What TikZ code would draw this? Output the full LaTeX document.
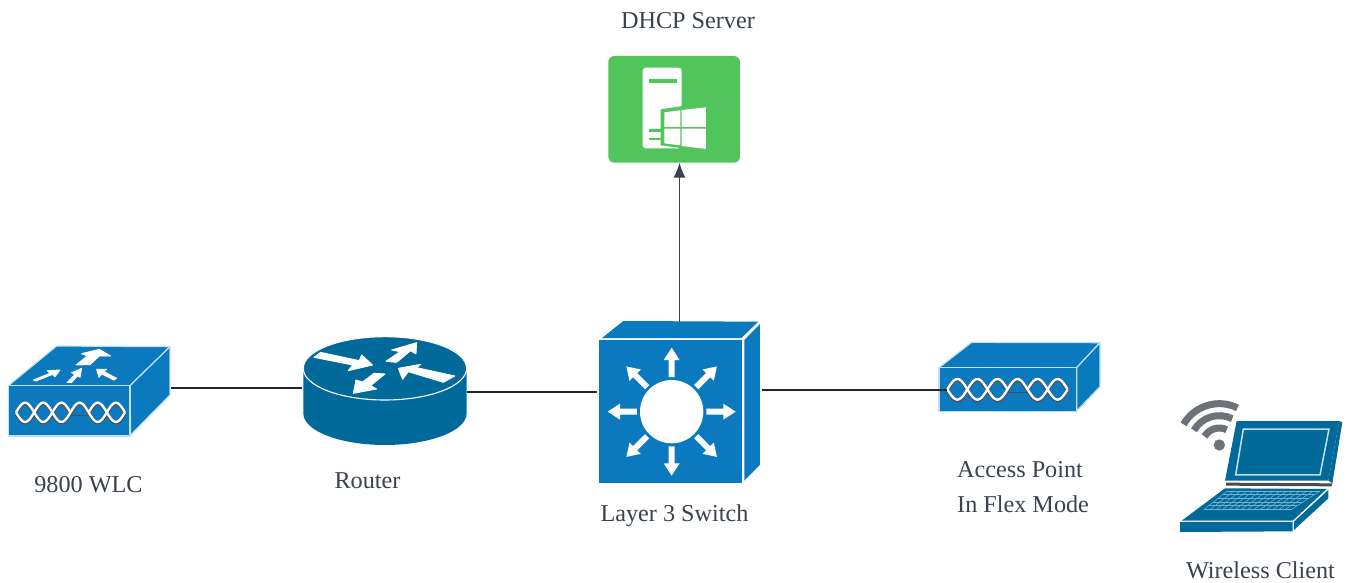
\documentclass[tikz,border=0pt]{standalone}
\usepackage{fontspec}
\setmainfont{Liberation Serif}
\usetikzlibrary{arrows.meta}
\definecolor{ciscoblue}{HTML}{0A79BD}
\definecolor{routerblue}{HTML}{02699B}
\definecolor{servergreen}{HTML}{52C45C}
\definecolor{labelgrey}{HTML}{3A424C}
\definecolor{wifigrey}{HTML}{6D7279}
\definecolor{edgeblue}{HTML}{BFE0F2}
\tikzset{
  port/.style={inner sep=0pt,outer sep=0pt,minimum width=#1,minimum height=60pt},
  lbl/.style={font=\fontsize{24.2}{35}\selectfont,text=labelgrey,inner sep=0pt},
  wire/.style={draw=black!85,line width=2.2pt},
  uplink/.style={draw=labelgrey,line width=1.4pt,-{Latex[length=15pt,width=12pt]}},
  face/.style={fill=ciscoblue,draw=white,line width=0.9pt,line join=round},
  topface/.style={fill=ciscoblue,draw=edgeblue,line width=1.2pt,line join=round},
  glyph/.style={fill=white,draw=white,line width=0.9pt,line join=round},
  pane/.style={fill=white,draw=none},
  zoomed/.style={x=0.3333pt,y=-0.3333pt}
}
\newcommand{\helix}[4]{%
  \draw[black!70,line width=3.6pt]
    plot[smooth,samples=61,domain=0:6] ({#1+(#2-#1)*\x/6},{#3+#4*sin(180*\x)+2});
  \draw[black!70,line width=3.6pt]
    plot[smooth,samples=31,domain=0:3] ({#1+(#2-#1)*\x/6},{#3-#4*sin(180*\x)+2});
  \draw[black!70,line width=3.6pt]
    plot[smooth,samples=21,domain=4:6] ({#1+(#2-#1)*\x/6},{#3-#4*sin(180*\x)+2});
  \draw[black!70,line width=0.7pt]
    ({#1+(#2-#1)*3/6},{#3+#4*0.3}) -- ({#1+(#2-#1)*4/6},{#3+#4*0.3});
  \draw[white,line width=2.4pt]
    plot[smooth,samples=61,domain=0:6] ({#1+(#2-#1)*\x/6},{#3+#4*sin(180*\x)});
  \draw[white,line width=2.4pt]
    plot[smooth,samples=31,domain=0:3] ({#1+(#2-#1)*\x/6},{#3-#4*sin(180*\x)});
  \draw[white,line width=2.4pt]
    plot[smooth,samples=21,domain=4:6] ({#1+(#2-#1)*\x/6},{#3-#4*sin(180*\x)});
}
\begin{document}
\begin{tikzpicture}[x=1pt,y=-1pt]
\useasboundingbox (0,0) rectangle (1353,582);
\fill[white] (0,0) rectangle (1353,582);

% invisible device nodes that carry the connector ends
\node[port=163pt] (wlc) at (89.5,388) {};
\node[port=165pt] (router) at (384.5,392) {};
\node[port=165pt] (switch) at (679.5,392) {};
\node[port=153pt] (ap) at (1023.5,390) {};
\node[inner sep=0pt,minimum width=132pt,minimum height=107pt] (server) at (674,109) {};

% 9800 WLC
\begin{scope}[shift={(0,320)},zoomed]
  \path[topface] (25,197) -- (170,78) -- (510,80) -- (390,197) -- cycle;
  \path[topface] (390,197) -- (510,80) -- (510,225) -- (392,345) -- cycle;
  \path[topface] (25,197) rectangle (390,348);
  \path[glyph] (228,135) -- (262,108) -- (245,101) -- (298,88) -- (332,108) -- (298,108) -- (270,134) -- cycle;
  \path[glyph] (100,180) -- (150,160) -- (142,152) -- (180,150) -- (165,170) -- (158,163) -- (108,183) -- cycle;
  \path[glyph] (202,187) -- (225,163) -- (215,158) -- (245,145) -- (240,172) -- (232,168) -- (215,187) -- cycle;
  \path[glyph] (350,175) -- (312,155) -- (320,148) -- (290,148) -- (297,172) -- (305,162) -- (342,180) -- cycle;
  \helix{48}{375}{277}{29}
\end{scope}

% Router
\begin{scope}[shift={(0,320)},zoomed]
  \path[fill=routerblue] (910,145) -- (910,280) arc[start angle=180,end angle=360,x radius=245,y radius=-95]
     -- (1400,145) -- cycle;
  \path[fill=routerblue,draw=white,line width=1.1pt] (1155,145) ellipse[x radius=245,y radius=95];
  \path[glyph] (942,112) -- (962,97) -- (1078,122) -- (1085,105) -- (1118,135) -- (1045,152) -- (1058,135) -- cycle;
  \path[glyph] (1158,124) -- (1200,95) -- (1175,90) -- (1250,68) -- (1248,102) -- (1232,92) -- (1190,127) -- cycle;
  \path[glyph] (1365,168) -- (1330,187) -- (1225,155) -- (1208,178) -- (1195,145) -- (1262,133) -- (1250,143) -- cycle;
  \path[glyph] (1155,162) -- (1122,160) -- (1088,186) -- (1068,180) -- (1060,220) -- (1130,207) -- (1112,197) -- cycle;
\end{scope}

% Layer 3 switch
\begin{scope}[shift={(580,310)},zoomed]
  \path[fill=ciscoblue] (66,84) -- (130,33) -- (535,35) -- (484,84) -- cycle;
  \path[fill=ciscoblue] (493,90) -- (540,42) -- (540,465) -- (493,512) -- cycle;
  \path[fill=ciscoblue] (58,90) rectangle (487,518);
  \fill[white] (275,305) circle[radius=95];
  \foreach \a in {0,45,...,315}{
    \path[pane,rotate around={\a:(275,305)}]
      (379,296) -- (430,296) -- (430,281) -- (467,305) -- (430,329) -- (430,314) -- (379,314) -- cycle;
  }
\end{scope}

% DHCP server
\begin{scope}[shift={(600,0)},zoomed]
  \fill[servergreen] (25,168) [rounded corners=6pt] rectangle (420,488);
  \path[pane,rounded corners=3pt] (128,445) -- (128,203) -- (245,203) -- (245,445) -- cycle;
  \fill[servergreen] (147,237) rectangle (230,250);
  \fill[servergreen] (182,328) -- (250,318) -- (250,445) -- (182,436) -- cycle;
  \fill[servergreen] (147,388) -- (182,388) -- (182,396) -- (147,396) -- cycle;
  \fill[servergreen] (147,413) -- (182,413) -- (182,421) -- (147,421) -- cycle;
  \path[pane] (193,337) -- (241,331) -- (241,381) -- (193,381) -- cycle;
  \path[pane] (245,330) -- (318,322) -- (318,381) -- (245,381) -- cycle;
  \path[pane] (193,386) -- (241,386) -- (241,436) -- (193,430) -- cycle;
  \path[pane] (245,386) -- (318,386) -- (318,447) -- (245,438) -- cycle;
\end{scope}

% Access point
\begin{scope}[shift={(930,330)},zoomed]
  \path[topface] (27,113) -- (125,37) -- (510,38) -- (440,113) -- cycle;
  \path[topface] (440,113) -- (510,38) -- (510,170) -- (440,243) -- cycle;
  \path[topface] (27,113) rectangle (440,245);
  \helix{52}{413}{178}{31}
\end{scope}

% Wireless client
\begin{scope}[shift={(1170,390)},zoomed]
  \fill[routerblue] (508,93) -- (517,97) -- (487,280) -- (475,272) -- cycle;
  \fill[black!70] (168,278) -- (487,280) -- (485,289) -- (168,287) -- cycle;
  \fill[routerblue] (200,93) -- (508,93) -- (475,272) -- (165,272) -- cycle;
  \draw[edgeblue,line width=1.5pt] (220,117) -- (477,117) -- (450,255) -- (197,255) -- cycle;
  \fill[routerblue] (165,295) -- (470,297) -- (368,392) -- (35,392) -- cycle;
  \fill[routerblue] (30,396) -- (368,396) -- (368,424) -- (30,426) -- cycle;
  \fill[routerblue] (372,395) -- (475,300) -- (475,325) -- (372,420) -- cycle;
  \foreach \t in {0,0.2,...,1.01}{
    \draw[edgeblue!60!routerblue,line width=0.5pt]
      ({172-70*\t},{303+55*\t}) -- ({450-85*\t},{303+55*\t});
  }
  \foreach \t in {0,0.0714,...,1.01}{
    \draw[edgeblue!60!routerblue,line width=0.5pt]
      ({172+278*\t},303) -- ({102+263*\t},358);
  }
  \fill[wifigrey] (148,165) circle[radius=17];
  \draw[wifigrey,line width=7pt] (148,165) ++(-150:51) arc[start angle=-150,end angle=-64,radius=51];
  \draw[wifigrey,line width=7pt] (148,165) ++(-150:88) arc[start angle=-150,end angle=-64,radius=88];
  \draw[wifigrey,line width=7pt] (148,165) ++(-150:124) arc[start angle=-150,end angle=-64,radius=124];
\end{scope}

% connectors
\draw[wire] (wlc.east) -- (router.west |- wlc.east);
\draw[wire] (router.east) -- (switch.west);
\draw[wire] (switch.east |- ap.west) -- (ap.west);
\draw[uplink] (switch.north |- 0,322) -- (switch.north |- server.south);

% labels
\node[lbl] (lserver) at (688,21) {DHCP Server};
\node[lbl] (lwlc) at (88.5,485) {9800 WLC};
\node[lbl] (lrouter) at (367.5,481) {Router};
\node[lbl] (lswitch) at (674.5,516) {Layer 3 Switch};
\node[lbl,align=left,anchor=west] (lap) at (957,487) {Access Point\\In Flex Mode};
\node[lbl] (lclient) at (1260.5,570) {Wireless Client};
\end{tikzpicture}
\end{document}
